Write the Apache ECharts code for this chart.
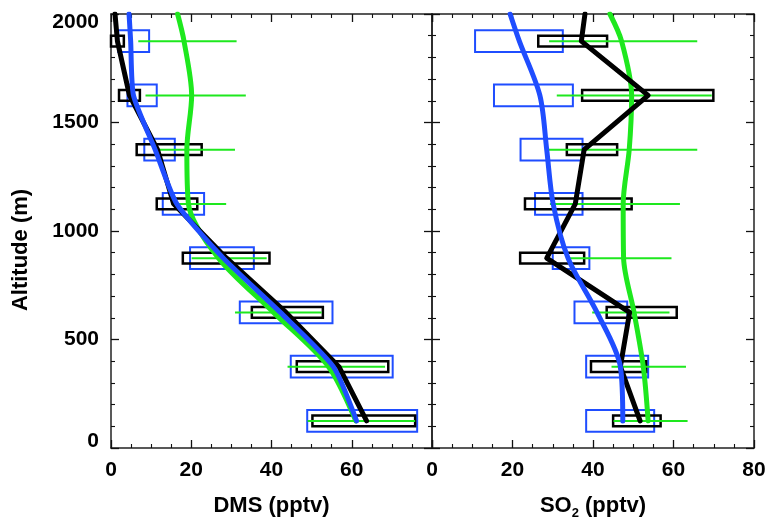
<!DOCTYPE html>
<html>
<head>
<meta charset="utf-8">
<script src="https://cdn.jsdelivr.net/npm/echarts@6/dist/echarts.min.js"></script>
<style>html,body{margin:0;padding:0;background:#fff}#c{width:770px;height:518px}</style>
</head>
<body>
<div id="c"></div>
<script>
// ---------- DATA ----------
const altLevels = [125, 375, 625, 875, 1125, 1375, 1625, 1875];
const profileAlt = [125, 375, 625, 875, 1125, 1375, 1625, 1875, 2000];

// DMS (pptv) profiles
const dmsBlackLine = [63.7, 56.8, 43.6, 28.8, 15.6, 11.6, 4.6, 1.6, 1.0];
const dmsBlueLine  = [61.2, 55.4, 42.2, 28.0, 16.4, 11.0, 5.6, 4.9, 4.5];
const dmsGreenLine = [61.0, 54.2, 40.5, 26.8, 19.3, 18.9, 20.1, 18.2, 16.6];
// DMS boxes / ranges
const dmsBlackLo = [50.2, 46.3, 35.1, 17.9, 11.4, 6.4, 2.0, 0.0];
const dmsBlackHi = [75.8, 69.1, 52.8, 39.5, 21.5, 22.6, 7.2, 3.2];
const dmsBlueLo  = [48.9, 44.8, 32.1, 19.7, 12.9, 8.3, 4.1, 1.8];
const dmsBlueHi  = [76.3, 70.2, 55.2, 35.6, 23.2, 15.9, 11.4, 9.5];
const dmsGreenLo = [49.0, 44.0, 30.9, 20.1, 15.1, 12.2, 8.6, 6.8];
const dmsGreenHi = [75.8, 68.3, 52.5, 38.8, 28.7, 30.9, 33.6, 31.3];

// SO2 (pptv) profiles
const so2BlackLine = [51.7, 46.8, 49.1, 28.5, 35.6, 37.8, 53.7, 37.1, 38.0];
const so2BlueLine  = [47.4, 46.8, 41.0, 33.8, 30.1, 28.5, 26.8, 21.7, 19.4];
const so2GreenLine = [53.7, 52.5, 50.2, 47.6, 47.5, 49.0, 49.6, 47.1, 44.2];
// SO2 boxes / ranges
const so2BlackLo = [45.0, 39.5, 43.4, 21.9, 23.1, 33.5, 37.3, 26.4];
const so2BlackHi = [56.8, 53.2, 60.8, 37.8, 49.6, 46.0, 69.9, 43.5];
const so2BlueLo  = [38.3, 38.3, 35.4, 30.0, 25.6, 22.0, 15.4, 10.7];
const so2BlueHi  = [55.2, 53.7, 48.5, 39.1, 37.4, 37.4, 35.0, 32.5];
const so2GreenLo = [45.1, 44.6, 39.8, 33.5, 29.3, 28.9, 31.0, 29.1];
const so2GreenHi = [63.5, 63.1, 59.0, 59.5, 61.6, 65.9, 69.5, 65.9];

const xTicksDMS = [0, 20, 40, 60];
const xTicksSO2 = [0, 20, 40, 60, 80];
const yTicks = [0, 500, 1000, 1500, 2000];

// ---------- STYLE ----------
const BLACK = '#000000', BLUE = '#1f4dff', GREEN = '#1ee81e';
const FONT = "'Liberation Sans', Arial, Helvetica, sans-serif";
const BLACK_HALF = 25, BLUE_HALF = 50;

function profile(vals) { return profileAlt.map((a, i) => [vals[i], a]); }
function ranges(lo, hi) { return altLevels.map((a, i) => [lo[i], hi[i], a]); }

function boxSeries(data, xi, yi, half, color, lw, z) {
  return {
    type: 'custom', xAxisIndex: xi, yAxisIndex: yi, z: z, silent: true,
    encode: { x: [0, 1], y: 2 },
    data: data,
    renderItem: function (params, api) {
      const p1 = api.coord([api.value(0), api.value(2) + half]);
      const p2 = api.coord([api.value(1), api.value(2) - half]);
      return { type: 'rect',
        shape: { x: p1[0], y: p1[1], width: p2[0] - p1[0], height: p2[1] - p1[1] },
        style: { fill: 'none', stroke: color, lineWidth: lw } };
    }
  };
}
function whiskerSeries(data, xi, yi, color, lw, z) {
  return {
    type: 'custom', xAxisIndex: xi, yAxisIndex: yi, z: z, silent: true,
    encode: { x: [0, 1], y: 2 },
    data: data,
    renderItem: function (params, api) {
      const p1 = api.coord([api.value(0), api.value(2)]);
      const p2 = api.coord([api.value(1), api.value(2)]);
      return { type: 'line',
        shape: { x1: p1[0], y1: p1[1], x2: p2[0], y2: p2[1] },
        style: { stroke: color, lineWidth: lw } };
    }
  };
}
function lineSeries(vals, xi, yi, color, smooth, z) {
  return {
    type: 'line', xAxisIndex: xi, yAxisIndex: yi, z: z, silent: true,
    data: profile(vals), symbol: 'none', smooth: smooth,
    lineStyle: { color: color, width: 5, cap: 'round', join: 'round' }
  };
}

const tickStyle = { show: true, inside: true, length: 8, lineStyle: { color: '#111', width: 1.3 } };
const minorTickStyle = (n) => ({ show: true, splitNumber: n, length: 4, lineStyle: { color: '#111', width: 1.1 } });
const axisLineStyle = { show: true, onZero: false, lineStyle: { color: '#222', width: 1.5 } };
const labelText = { fontFamily: FONT, fontWeight: 'bold', fontSize: 21, color: '#000' };

function xAxisDef(grid, pos, labels, name, labelList) {
  return {
    type: 'value', gridIndex: grid, position: pos, min: 0, max: 80, interval: 20,
    axisLine: axisLineStyle, axisTick: tickStyle, minorTick: minorTickStyle(4),
    splitLine: { show: false },
    axisLabel: labels ? Object.assign({ show: true, margin: 12,
      formatter: v => (labelList.indexOf(v) >= 0 ? String(v) : '') }, labelText) : { show: false },
    name: name || '', nameLocation: 'middle', nameGap: 44,
    nameTextStyle: { fontFamily: FONT, fontWeight: 'bold', fontSize: 22, color: '#000',
      rich: {
        a: { fontFamily: FONT, fontWeight: 'bold', fontSize: 22, color: '#000', lineHeight: 28 },
        s: { fontFamily: FONT, fontWeight: 'bold', fontSize: 13, color: '#000', lineHeight: 13, verticalAlign: 'bottom' }
      } }
  };
}
function yAxisDef(grid, pos, labels) {
  return {
    type: 'value', gridIndex: grid, position: pos, min: 0, max: 2000, interval: 500,
    axisLine: axisLineStyle, axisTick: tickStyle, minorTick: minorTickStyle(5),
    splitLine: { show: false },
    axisLabel: labels ? {
      show: true, margin: 12,
      formatter: v => {
        if (yTicks.indexOf(v) < 0) return '';
        if (v === 2000) return '{t|' + v + '}';
        if (v === 0) return '{b|' + v + '}';
        return '{n|' + v + '}';
      },
      rich: {
        t: Object.assign({ padding: [16, 0, 0, 0] }, labelText),
        b: Object.assign({ padding: [0, 0, 14, 0] }, labelText),
        n: Object.assign({}, labelText)
      }
    } : { show: false }
  };
}

const chart = echarts.init(document.getElementById('c'), null, { renderer: 'canvas' });
chart.setOption({
  animation: false,
  backgroundColor: '#fff',
  grid: [
    { left: 111, top: 14, width: 321, height: 434, containLabel: false, outerBoundsMode: 'none' },
    { left: 432, top: 14, width: 322, height: 434, containLabel: false, outerBoundsMode: 'none' }
  ],
  xAxis: [
    xAxisDef(0, 'bottom', true, '{a|DMS (pptv)}', xTicksDMS),
    xAxisDef(0, 'top', false),
    xAxisDef(1, 'bottom', true, '{a|SO}{s|2}{a| (pptv)}', xTicksSO2),
    xAxisDef(1, 'top', false)
  ],
  yAxis: [
    yAxisDef(0, 'left', true),
    yAxisDef(0, 'right', false),
    yAxisDef(1, 'left', false),
    yAxisDef(1, 'right', false)
  ],
  graphic: [{
    type: 'text', x: 21, y: 250, rotation: Math.PI / 2,
    style: { text: 'Altitude (m)', fontFamily: FONT, fontWeight: 'bold', fontSize: 22,
      fill: '#000', align: 'center', verticalAlign: 'middle' }
  }],
  series: [
    boxSeries(ranges(dmsBlueLo, dmsBlueHi), 0, 0, BLUE_HALF, BLUE, 2, 2),
    boxSeries(ranges(dmsBlackLo, dmsBlackHi), 0, 0, BLACK_HALF, BLACK, 2.5, 3),
    whiskerSeries(ranges(dmsGreenLo, dmsGreenHi), 0, 0, GREEN, 2, 4),
    lineSeries(dmsGreenLine, 0, 0, GREEN, 0.3, 5),
    lineSeries(dmsBlackLine, 0, 0, BLACK, false, 6),
    lineSeries(dmsBlueLine, 0, 0, BLUE, 0.2, 7),

    boxSeries(ranges(so2BlueLo, so2BlueHi), 2, 2, BLUE_HALF, BLUE, 2, 2),
    boxSeries(ranges(so2BlackLo, so2BlackHi), 2, 2, BLACK_HALF, BLACK, 2.5, 3),
    whiskerSeries(ranges(so2GreenLo, so2GreenHi), 2, 2, GREEN, 2, 4),
    lineSeries(so2GreenLine, 2, 2, GREEN, 0.3, 5),
    lineSeries(so2BlackLine, 2, 2, BLACK, false, 6),
    lineSeries(so2BlueLine, 2, 2, BLUE, 0.3, 7)
  ]
});
</script>
</body>
</html>
